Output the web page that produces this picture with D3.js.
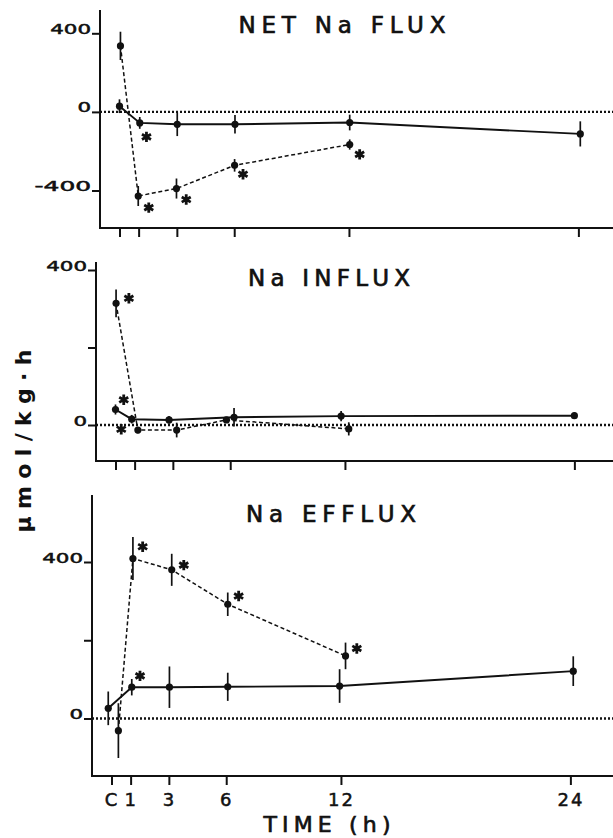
<!DOCTYPE html>
<html>
<head>
<meta charset="utf-8">
<script src="https://cdn.jsdelivr.net/npm/d3@7"></script>
<style>
  body { margin: 0; background: #fff; }
  svg { display: block; }
</style>
</head>
<body>
<script>
// time axis, C = control sample taken at time 0
var xTicks = [0, 1, 3, 6, 12, 24];
var xTickLabels = ["C", "1", "3", "6", "12", "24"];

// NET Na FLUX (umol/kg.h), solid = control, dashed = treated
var netCtrlTime = [0, 1.06, 3.02, 6.04, 12.04, 24.1];
var netCtrlMean = [29, -56, -63, -63, -54, -112];
var netCtrlSem  = [35, 30, 60, 47, 40, 64];
var netExpTime  = [0.05, 0.98, 2.98, 6.02, 12.04];
var netExpMean  = [336, -428, -390, -272, -166];
var netExpSem   = [72, 51, 51, 32, 26];
// significance stars (time, value)
var netStars = [[1.41, -127], [1.53, -487], [3.49, -446], [6.46, -317], [12.56, -216]];

// Na INFLUX
var inCtrlTime = [0, 0.85, 2.8, 6.2, 11.8, 24];
var inCtrlMean = [40, 15, 13, 20, 23, 24];
var inCtrlSem  = [13, 11, 10, 24, 13, 8];
var inExpTime  = [0.03, 1.17, 3.2, 5.8, 12.2];
var inExpMean  = [314, -13, -13, 13, -10];
var inExpSem   = [36, 8, 19, 6, 17];
var inStars = [[0.70, 327], [0.43, 65], [0.30, -11]];

// Na EFFLUX
var effCtrlTime = [-0.17, 1.06, 3.03, 6.08, 11.93, 24.15];
var effCtrlMean = [26, 80, 80, 81, 83, 121];
var effCtrlSem  = [43, 21, 53, 36, 43, 38];
var effExpTime  = [0.36, 1.12, 3.15, 6.08, 12.24];
var effExpMean  = [-31, 409, 380, 292, 160];
var effExpSem   = [70, 55, 41, 30, 34];
var effStars = [[1.63, 439], [3.78, 392], [6.65, 313], [12.83, 179], [1.49, 109]];

// page size
var w = 613;
var h = 838;

// horizontal layout shared by the panels
var originPad = 19.5;   // y axis to time 0
var pxPerHour = 19.12;
var tickLen = 9;

// helper to zip the arrays into point objects
function series(t, m, s) {
  return d3.zip(t, m, s).map(function(d) {
    return { t: d[0], v: d[1], e: d[2] };
  });
}

// panel layouts (scanned figure is slightly skewed, so every panel has its own left edge)
var panels = [
  { title: "NET Na FLUX", titleX: 342, titleY: 33, titleLen: 207,
    left: 100, top: 10, bottom: 228, zero: 111.9, per400: 78.6,
    yTicks: [-400, 0, 400], yLabels: ["-400", "0", "400"],
    ctrl: series(netCtrlTime, netCtrlMean, netCtrlSem),
    exp: series(netExpTime, netExpMean, netExpSem),
    stars: netStars, xLabels: false },
  { title: "Na INFLUX", titleX: 329, titleY: 286, titleLen: 162,
    left: 96, top: 262, bottom: 461, zero: 425, per400: 155,
    yTicks: [0, 200, 400], yLabels: ["0", "", "400"],
    ctrl: series(inCtrlTime, inCtrlMean, inCtrlSem),
    exp: series(inExpTime, inExpMean, inExpSem),
    stars: inStars, xLabels: false },
  { title: "Na EFFLUX", titleX: 331, titleY: 522, titleLen: 170,
    left: 92, top: 495, bottom: 776, zero: 718.5, per400: 156.5,
    yTicks: [0, 200, 400], yLabels: ["0", "", "400"],
    ctrl: series(effCtrlTime, effCtrlMean, effCtrlSem),
    exp: series(effExpTime, effExpMean, effExpSem),
    stars: effStars, xLabels: true }
];

var svg = d3.select("body")
            .append("svg")
            .attr("width", w)
            .attr("height", h);

// asterisk drawn as three crossing strokes
function starPath(r) {
  var p = "";
  [90, 30, 150].forEach(function(a) {
    var rad = a * Math.PI / 180;
    var dx = r * Math.cos(rad), dy = r * Math.sin(rad);
    p += "M" + (-dx) + "," + (-dy) + "L" + dx + "," + dy;
  });
  return p;
}

panels.forEach(function(p) {

  var x = d3.scaleLinear()
            .domain([0, 24])
            .range([p.left + originPad, p.left + originPad + 24 * pxPerHour]);

  var y = d3.scaleLinear()
            .domain([0, 400])
            .range([p.zero, p.zero - p.per400]);

  var g = svg.append("g");

  // zero reference line (dotted)
  g.append("line")
   .attr("x1", p.left).attr("x2", w)
   .attr("y1", y(0)).attr("y2", y(0))
   .attr("stroke", "#111")
   .attr("stroke-width", 2.4)
   .attr("stroke-dasharray", "2,2");

  // axis lines
  g.append("line")
   .attr("x1", p.left).attr("x2", p.left)
   .attr("y1", p.top).attr("y2", p.bottom + 1)
   .attr("stroke", "#111").attr("stroke-width", 2);
  g.append("line")
   .attr("x1", p.left - 1).attr("x2", w)
   .attr("y1", p.bottom).attr("y2", p.bottom)
   .attr("stroke", "#111").attr("stroke-width", 2);

  // x axis ticks
  var xAxis = d3.axisBottom(x)
                .tickValues(xTicks)
                .tickSize(tickLen)
                .tickSizeOuter(0)
                .tickFormat(function(d, i) { return p.xLabels ? xTickLabels[i] : ""; });

  var gx = g.append("g")
            .attr("transform", "translate(0," + p.bottom + ")")
            .call(xAxis);
  gx.select(".domain").remove();
  gx.selectAll("line").attr("stroke", "#111").attr("stroke-width", 2);
  gx.selectAll("text")
    .attr("y", 30)
    .attr("dy", 0)
    .attr("fill", "#111")
    .attr("stroke", "#111")
    .attr("stroke-width", 0.5)
    .style("font-family", "DejaVu Sans")
    .style("font-size", "18px")
    .style("letter-spacing", "2px");

  // y axis ticks
  var yAxis = d3.axisLeft(y)
                .tickValues(p.yTicks)
                .tickSize(8)
                .tickSizeOuter(0)
                .tickFormat(function(d, i) { return p.yLabels[i]; });

  var gy = g.append("g")
            .attr("transform", "translate(" + p.left + ",0)")
            .call(yAxis);
  gy.select(".domain").remove();
  gy.selectAll("line").attr("stroke", "#111").attr("stroke-width", 2);
  gy.selectAll("text")
    .attr("x", -9)
    .attr("dy", 0)
    .attr("fill", "#111")
    .attr("stroke", "#111")
    .attr("stroke-width", 0.5)
    .style("font-family", "DejaVu Sans")
    .style("font-size", "14px")
    .each(function() {
      var t = d3.select(this).text();
      if (t.length) {
        d3.select(this)
          .attr("textLength", t.length * 13.6 + (t[0] === "-" ? 2 : 0))
          .attr("lengthAdjust", "spacingAndGlyphs");
      }
    });

  // panel title
  g.append("text")
   .attr("x", p.titleX)
   .attr("y", p.titleY)
   .attr("text-anchor", "middle")
   .attr("textLength", p.titleLen)
   .attr("lengthAdjust", "spacing")
   .style("font-family", "DejaVu Sans")
   .style("font-size", "23px")
   .attr("fill", "#111")
   .attr("stroke", "#111")
   .attr("stroke-width", 0.7)
   .text(p.title);

  var line = d3.line()
               .x(function(d) { return x(d.t); })
               .y(function(d) { return y(d.v); });

  // both groups: control solid, treated dashed
  [[p.ctrl, null, 1.9], [p.exp, "4,2.6", 1.5]].forEach(function(s) {
    g.append("path")
     .datum(s[0])
     .attr("d", line)
     .attr("fill", "none")
     .attr("stroke", "#111")
     .attr("stroke-width", s[2])
     .attr("stroke-dasharray", s[1]);

    g.selectAll(null)
     .data(s[0])
     .enter()
     .append("line")
     .attr("x1", function(d) { return x(d.t); })
     .attr("x2", function(d) { return x(d.t); })
     .attr("y1", function(d) { return y(d.v + d.e); })
     .attr("y2", function(d) { return y(d.v - d.e); })
     .attr("stroke", "#111")
     .attr("stroke-width", 1.7);

    g.selectAll(null)
     .data(s[0])
     .enter()
     .append("circle")
     .attr("cx", function(d) { return x(d.t); })
     .attr("cy", function(d) { return y(d.v); })
     .attr("r", 3.6)
     .attr("fill", "#111");
  });

  // significance asterisks
  g.selectAll(null)
   .data(p.stars)
   .enter()
   .append("path")
   .attr("transform", function(d) {
      return "translate(" + x(d[0]) + "," + y(d[1]) + ")";
   })
   .attr("d", starPath(5.2))
   .attr("stroke", "#111")
   .attr("stroke-width", 2.8)
   .attr("stroke-linecap", "butt");
});

// x axis title
svg.append("text")
   .attr("x", 327)
   .attr("y", 832)
   .attr("text-anchor", "middle")
   .attr("textLength", 127)
   .attr("lengthAdjust", "spacing")
   .style("font-family", "DejaVu Sans")
   .style("font-size", "22px")
   .attr("fill", "#111")
   .attr("stroke", "#111")
   .attr("stroke-width", 0.7)
   .text("TIME (h)");

// y axis title
svg.append("text")
   .attr("transform", "translate(31,441) rotate(-90)")
   .attr("text-anchor", "middle")
   .attr("textLength", 183)
   .attr("lengthAdjust", "spacing")
   .style("font-family", "DejaVu Sans")
   .style("font-size", "22px")
   .style("font-weight", "bold")
   .attr("fill", "#111")
   .text("µmol/kg·h");
</script>
</body>
</html>
